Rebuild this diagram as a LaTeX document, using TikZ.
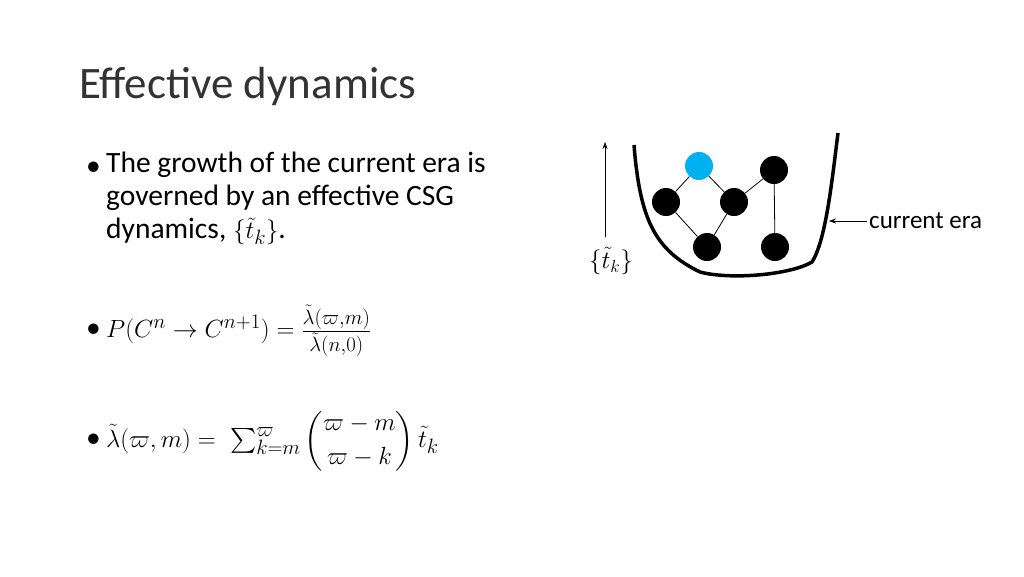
\documentclass[tikz,border=0pt]{standalone}
\usepackage{amsmath}
\usepackage{fontspec}
\setmainfont{Carlito}
\usetikzlibrary{arrows.meta}
\begin{document}
\begin{tikzpicture}[x=1pt,y=-1pt,
  dot/.style={circle,fill=black,minimum size=28pt,inner sep=0pt},
  bdot/.style={circle,fill={rgb,255:red,0;green,176;blue,240},minimum size=28pt,inner sep=0pt},
  arr/.style={-{Stealth[length=7pt,width=5pt]}},
  body/.style={anchor=west,font=\fontsize{29.5}{33}\selectfont,inner sep=0pt,align=left},
  mth/.style={anchor=west,font=\fontsize{32}{36}\selectfont,inner sep=0pt}]
\useasboundingbox (0,0) rectangle (1024,576);
\node[anchor=west,inner sep=0pt,font=\fontsize{45}{50}\selectfont\color{black!80}] (title) at (79,86) {Effective dynamics};
\node[body] (b1) at (86,169) {•};
\node[body,anchor=north west] (t1) at (106,152) {The growth of the current era is\\governed by an effective CSG\\dynamics, $\{\tilde t_k\}$.};
\node[body] (b2) at (86,331) {•};
\node[mth] (m2) at (106,331) {$P(C^n\rightarrow C^{n+1}) = \frac{\tilde\lambda(\varpi,m)}{\tilde\lambda(n,0)}$};
\node[body] (b3) at (86,441) {•};
\node[mth] (m3) at (106,441) {$\tilde\lambda(\varpi,m) =\ \textstyle\sum_{k=m}^{\varpi}\dbinom{\varpi-m}{\varpi-k}\,\tilde t_k$};
% graph
\node[bdot] (a) at (699,166) {};
\node[dot] (b) at (666,202) {};
\node[dot] (c) at (734,202) {};
\node[dot] (d) at (774,170) {};
\node[dot] (e) at (707,247) {};
\node[dot] (f) at (775,247) {};
\draw[thick] (a)--(b) (a)--(c) (c)--(d) (b)--(e) (c)--(e) (d)--(f);
\draw[line width=3.5pt] (634,145) .. controls (640,220) and (655,250) .. (700,272)
  .. controls (730,280) and (790,275) .. (812,262) .. controls (826,240) and (832,180) .. (838,133);
\coordinate (s0) at (605,237);
\coordinate (s1) at (605,142);
\draw[arr] (s0)--(s1);
\node[font=\fontsize{24}{28}\selectfont] (tk) at (611,261) {$\{\tilde t_k\}$};
\node[anchor=west,inner sep=0pt,font=\fontsize{25}{28}\selectfont] (ce) at (869,221) {current era};
\coordinate (ce1) at (829,221);
\draw[arr] ([xshift=-2pt]ce.west)--(ce1);
\end{tikzpicture}
\end{document}
